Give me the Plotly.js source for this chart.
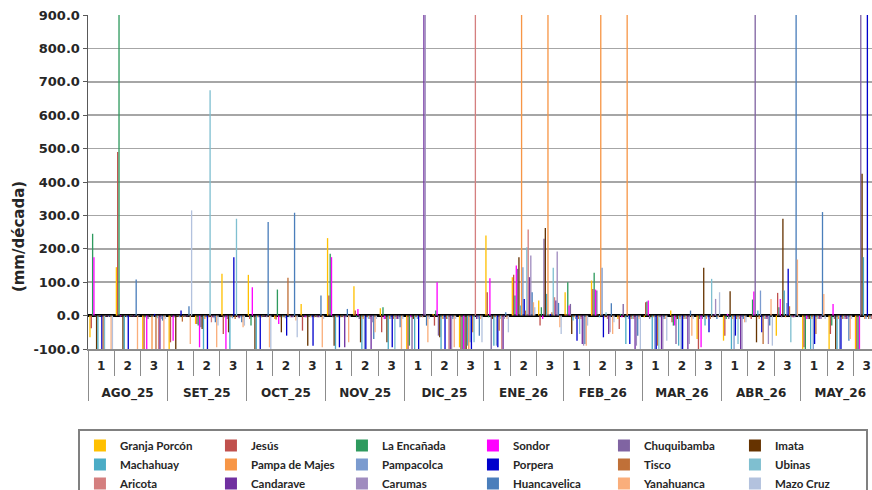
<!DOCTYPE html>
<html>
<head>
<meta charset="utf-8">
<script src="https://cdn.plot.ly/plotly-3.0.1.min.js"></script>
<style>html,body{margin:0;padding:0;background:#fff;}#chart{width:872px;height:490px;}</style>
</head>
<body>
<div id="chart"></div>
<script>
// ---- categories ----
const months = ["AGO_25","SET_25","OCT_25","NOV_25","DIC_25","ENE_26","FEB_26","MAR_26","ABR_26","MAY_26"];
const decades = ["1","2","3"];

// ---- series (mm/década), one value per month-decade ----
const stations = ["Granja Porcón","Jesús","La Encañada","Sondor","Chuquibamba","Imata",
                  "Machahuay","Pampa de Majes","Pampacolca","Porpera","Tisco","Ubinas",
                  "Aricota","Candarave","Carumas","Huancavelica","Yanahuanca","Mazo Cruz"];

const granjaPorcon = [-65,145,-100,-100,-25,125,122,-10,35,232,88,22,-100,5,-95,240,115,45,70,105,-10,-5,15,-70,-75,-5,-60,-100,-100,-100];
const jesus        = [-38,490,-100,-80,-25,-55,-10,-12,-45,60,15,-50,-100,-30,-100,70,122,-30,5,80,-40,40,-20,-100,-60,-10,68,-95,-55,-100];
const laEncanada   = [245,1200,-5,-3,-30,-5,-30,78,-3,185,-5,25,-90,15,-100,-5,60,25,100,128,5,42,-30,-10,-10,48,25,-100,-30,-100];
const sondor       = [175,-3,-100,-75,-95,-100,85,-25,-5,175,20,-10,-5,100,-100,112,150,-10,30,78,-5,45,-30,-95,5,72,50,-10,35,-100];
const chuquibamba  = [-2,-2,-10,-5,-35,-10,-5,-5,-5,-5,-10,-10,-100,-60,-100,-100,140,230,35,75,35,-10,-85,-10,-10,1200,-5,-10,-10,1200];
const imata        = [-100,-100,-3,-100,-40,-50,-100,-50,-90,-90,-80,-80,-10,-65,-100,-10,175,262,-55,5,-5,-5,-10,143,73,-80,290,-10,-100,425];
const machahuay    = [-100,-100,-2,-2,-100,-100,-100,-5,-3,-100,-100,-100,-100,-100,-90,-90,30,65,-15,-5,-85,-100,-90,-30,-100,15,75,-100,-100,175];
const pampaMajes   = [-3,-2,-100,-3,-10,-5,-5,-5,-5,-5,-10,-10,-5,-10,-100,-5,1200,1200,-5,1200,1200,-5,-10,-10,-10,-10,-5,-10,-10,-10];
const pampacolca   = [-2,-5,-4,-5,-5,-8,-5,-8,-5,-5,-100,-10,-10,-10,-80,-90,145,5,-10,143,-10,-100,-100,-5,-100,75,38,-100,-100,-10];
const porpera      = [-100,-100,5,15,-100,175,-100,-60,-90,-95,-100,-95,-100,-100,-100,-95,50,5,-75,-65,-85,-100,-100,-50,-60,-50,140,-85,-100,1200];
const tisco        = [-100,-3,-100,-18,-5,-10,-5,113,-5,-5,-5,-10,-5,-10,-50,-45,15,10,-10,-5,-10,-90,-10,-10,-10,-85,28,-55,-10,-10];
const ubinas       = [-100,-2,-8,-3,675,290,-3,-5,-3,-3,-10,-100,-3,-10,-80,-10,205,143,-55,10,-10,-100,-10,110,-85,-10,-80,-10,-10,-10];
const aricota      = [-3,-2,-100,-4,-20,-5,-3,-5,-5,-5,-10,-10,-5,-100,1200,-100,258,55,-10,-10,-10,-5,-10,-5,-10,-10,-5,-10,-10,-10];
const candarave    = [-2,-3,-100,-3,-5,-8,-3,-5,-5,-95,-100,-10,1200,-100,-10,-100,115,45,-85,-55,-100,-100,-100,5,-100,-10,-5,-10,-10,-10];
const carumas      = [-4,-2,-10,-2,-8,-5,-5,-5,-5,-5,-20,-10,1000,-100,-10,-10,180,192,-90,-50,-90,-100,-85,50,-100,-85,-5,-10,-10,-10];
const huancavelica = [-3,108,-15,28,-20,-20,280,308,60,20,-70,-35,-30,-10,-60,10,70,38,-85,37,-60,-10,15,-10,-10,-30,1200,310,-75,-10];
const yanahuanca   = [-100,-100,-100,-85,-95,-35,-95,-15,-95,-80,-50,-100,-80,-95,-10,-10,40,-35,-90,-55,-10,-10,-60,-5,-20,50,168,65,-70,-10];
const mazoCruz     = [-100,-2,-10,315,-30,-30,-100,-65,-10,-5,-10,-10,-10,-10,-80,-50,25,-55,-30,-20,-100,-75,-10,70,-20,-90,-5,-10,-10,-10];

const seriesValues = [granjaPorcon,jesus,laEncanada,sondor,chuquibamba,imata,machahuay,pampaMajes,
                      pampacolca,porpera,tisco,ubinas,aricota,candarave,carumas,huancavelica,yanahuanca,mazoCruz];
const colors = ["#FFC000","#C0504D","#2E9A5E","#FF00FF","#8064A2","#663300",
                "#4BACC6","#F79646","#7B9BCF","#0000CC","#C07038","#7FBFD0",
                "#D47F7F","#7030A0","#A08CBF","#4A7EBB","#FAAE7B","#B3C2DE"];

const yTicks = [-100,0,100,200,300,400,500,600,700,800,900];

// multicategory coordinates (a leading line break drops the month row below the decade row)
const xMonth = [], xDec = [];
months.forEach(m => decades.forEach(d => { xMonth.push("<br>" + m); xDec.push(d); }));

const traces = stations.map((name, i) => ({
  type: "bar",
  name: name,
  x: [xMonth, xDec],
  y: seriesValues[i],
  marker: {color: colors[i], line: {width: 0}},
  cliponaxis: true
}));

const tickFont = {family: "DejaVu Sans", size: 12, weight: "bold", color: "#262626"};

const layout = {
  width: 872, height: 490,
  margin: {l: 88, r: 0, t: 15, b: 141, autoexpand: false},
  paper_bgcolor: "#fff", plot_bgcolor: "#fff",
  barmode: "group", bargap: 0.1, bargroupgap: 0,
  showlegend: true,
  xaxis: {
    type: "multicategory",
    automargin: false,
    range: [-0.5, 29.2],
    showgrid: false, zeroline: false,
    showline: true, linecolor: "#8c8c8c", linewidth: 1.5,
    ticks: "outside", tickson: "boundaries", ticklen: 25, tickcolor: "#8c8c8c", tickwidth: 1,
    ticklabelstandoff: 5,
    showdividers: true, dividercolor: "#8c8c8c", dividerwidth: 1,
    tickfont: tickFont
  },
  yaxis: {
    automargin: false,
    range: [-100, 900],
    tickvals: yTicks,
    ticktext: yTicks.map(v => v.toFixed(1)),
    showgrid: true, gridcolor: "#a6a6a6", gridwidth: 1.5,
    zeroline: true, zerolinecolor: "#000", zerolinewidth: 3,
    showline: true, linecolor: "#595959", linewidth: 1.5,
    ticks: "outside", ticklen: 4, tickcolor: "#595959",
    tickfont: {family: "DejaVu Sans", size: 13, weight: "bold", color: "#262626"}
  },
  annotations: [{
    text: "(mm/década)", textangle: -90, showarrow: false,
    xref: "paper", yref: "paper", x: -0.088, y: 0.335, xanchor: "center", yanchor: "middle",
    font: {family: "DejaVu Sans", size: 15, weight: "bold", color: "#262626"}
  }],
  legend: {
    orientation: "h", traceorder: "normal",
    xref: "container", yref: "container",
    x: 0.0894, xanchor: "left", y: 0.1245, yanchor: "top",
    bordercolor: "#808080", borderwidth: 2, bgcolor: "#fff",
    entrywidth: 86, entrywidthmode: "pixels",
    font: {family: "Lato", size: 11.5, weight: "bold", color: "#262626"}
  }
};

Plotly.newPlot("chart", traces, layout, {staticPlot: true, displayModeBar: false});
</script>
</body>
</html>
